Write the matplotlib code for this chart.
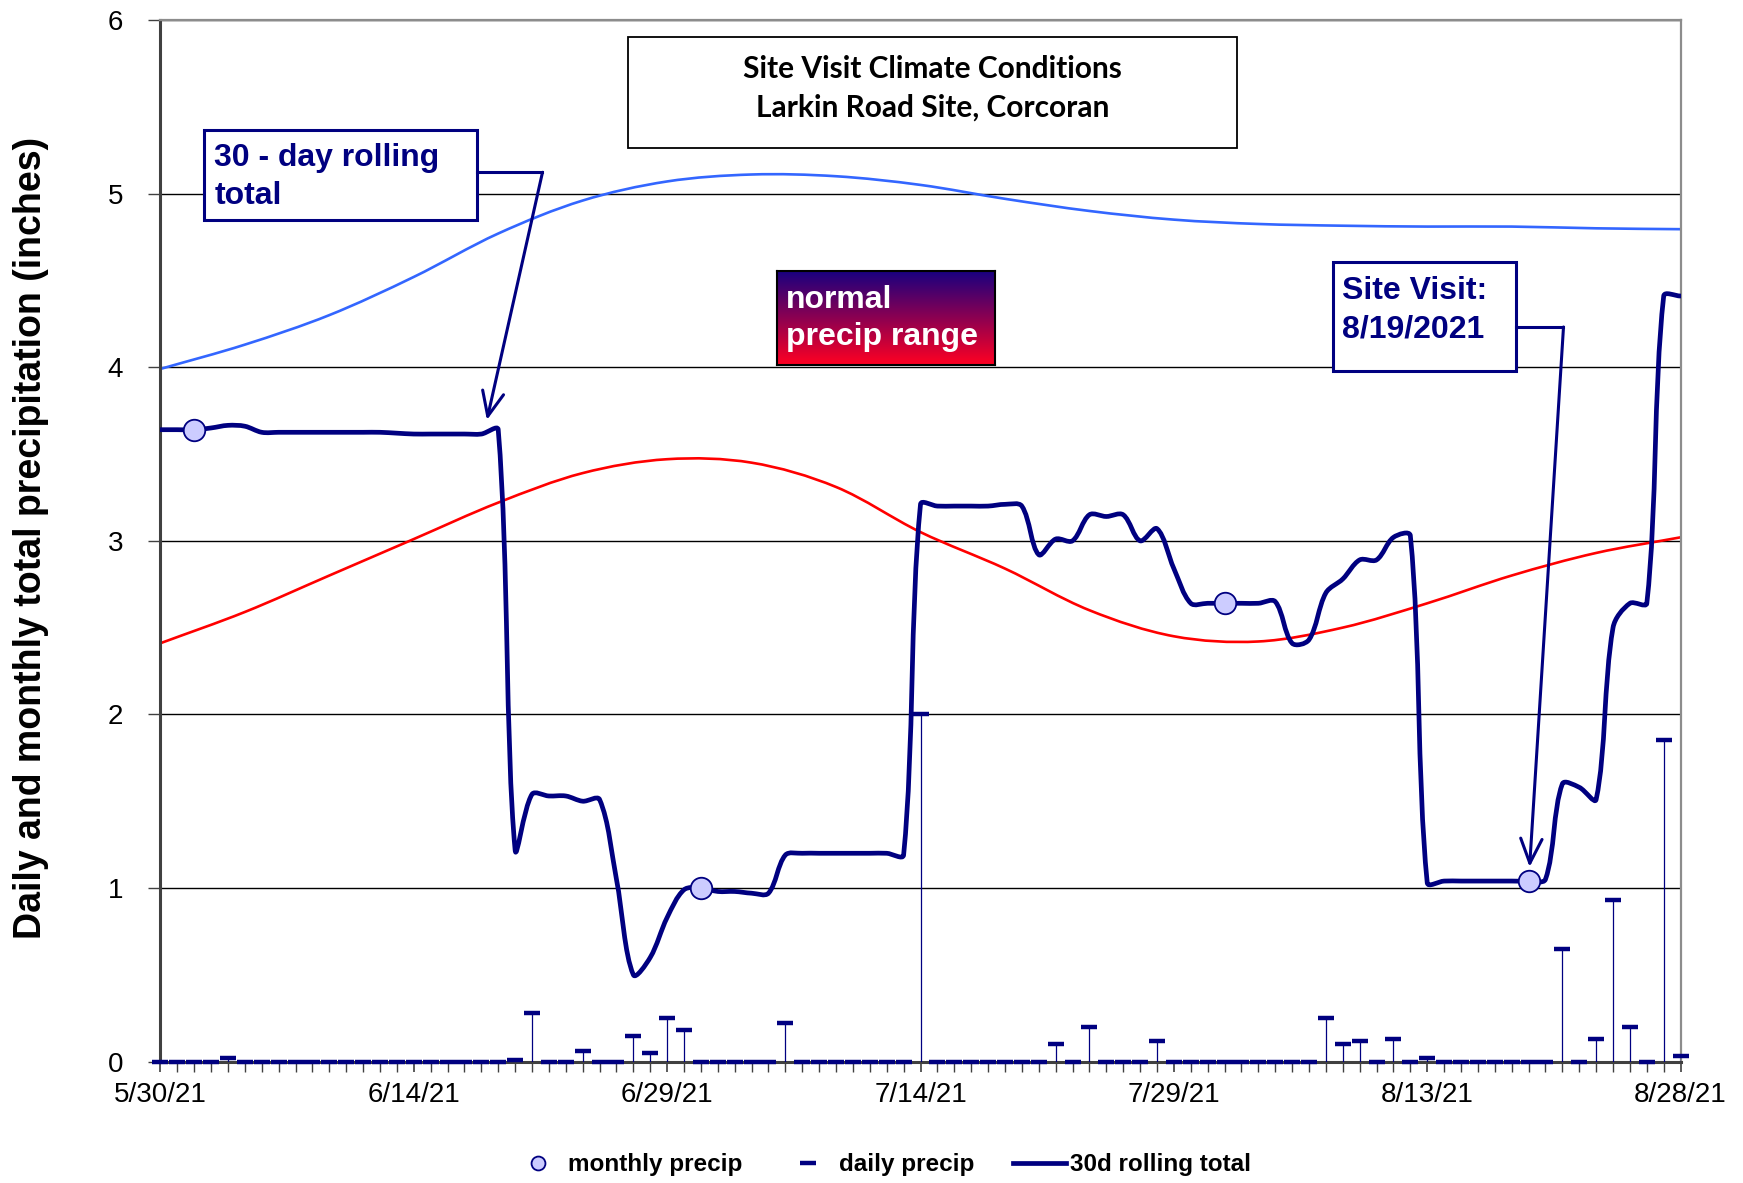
import matplotlib
matplotlib.use("Agg")
import numpy as np
import pandas as pd
import matplotlib.pyplot as plt
import matplotlib.dates as mdates
import matplotlib.transforms as mtransforms
from matplotlib.path import Path
from matplotlib.patches import PathPatch, Rectangle
from matplotlib.lines import Line2D

plt.rcParams['font.family'] = ['Liberation Sans', 'DejaVu Sans']

W, H = 1743, 1183
NAVY = "#000080"

# --- data ---
dates = pd.date_range("2021-05-30", "2021-08-28", freq="D")

daily_precip = [
    0, 0, 0, 0, 0.02, 0, 0, 0, 0, 0,
    0, 0, 0, 0, 0, 0, 0, 0, 0, 0,
    0, 0.01, 0.28, 0, 0, 0.06, 0, 0, 0.15, 0.05,
    0.25, 0.18, 0, 0, 0, 0, 0, 0.22, 0, 0,
    0, 0, 0, 0, 0, 2.00, 0, 0, 0, 0,
    0, 0, 0, 0.10, 0, 0.20, 0, 0, 0, 0.12,
    0, 0, 0, 0, 0, 0, 0, 0, 0, 0.25,
    0.10, 0.12, 0, 0.13, 0, 0.02, 0, 0, 0, 0,
    0, 0, 0, 0.65, 0, 0.13, 0.93, 0.20, 0, 1.85,
    0.03,
]

rolling_30d = [
    3.64, 3.64, 3.64, 3.65, 3.665, 3.66, 3.625, 3.625, 3.625, 3.625,
    3.625, 3.625, 3.625, 3.625, 3.62, 3.615, 3.615, 3.615, 3.615, 3.615,
    3.64, 1.22, 1.54, 1.53, 1.53, 1.50, 1.51, 1.05, 0.50, 0.60,
    0.83, 0.99, 1.00, 0.98, 0.98, 0.97, 0.97, 1.19, 1.20, 1.20,
    1.20, 1.20, 1.20, 1.20, 1.19, 3.21, 3.20, 3.20, 3.20, 3.20,
    3.21, 3.20, 2.92, 3.01, 3.00, 3.15, 3.14, 3.15, 3.00, 3.07,
    2.84, 2.64, 2.64, 2.64, 2.64, 2.64, 2.65, 2.41, 2.43, 2.70,
    2.78, 2.89, 2.89, 3.02, 3.03, 1.03, 1.04, 1.04, 1.04, 1.04,
    1.04, 1.04, 1.05, 1.60, 1.58, 1.51, 2.50, 2.64, 2.64, 4.41,
    4.41,
]

monthly_dates = pd.to_datetime(["2021-06-01", "2021-07-01", "2021-08-01", "2021-08-19"])
monthly_precip = [3.64, 1.00, 2.64, 1.04]

normal_dates = pd.date_range("2021-05-30", "2021-08-28", freq="5D")
normal_high = [3.99, 4.13, 4.30, 4.52, 4.77, 4.96, 5.07, 5.11, 5.10, 5.05,
               4.97, 4.90, 4.85, 4.825, 4.815, 4.81, 4.81, 4.80, 4.795]
normal_low = [2.41, 2.59, 2.80, 3.01, 3.22, 3.39, 3.47, 3.45, 3.31, 3.05,
              2.84, 2.60, 2.45, 2.42, 2.50, 2.64, 2.80, 2.93, 3.02]

tick_dates = pd.date_range("2021-05-30", "2021-08-28", freq="15D")
tick_labels = ["5/30/21", "6/14/21", "6/29/21", "7/14/21", "7/29/21", "8/13/21", "8/28/21"]

# pixels per data unit on the plot (used only to weight the smoothing)
SX = 1520.2 / 90
SY = 1041.6 / 6


def smooth_path(x, y):
    # smoothed line like excel: bezier segments, tangents weighted by segment length
    pts = np.column_stack([x, y]).astype(float)
    n = len(pts)
    scale = np.array([SX, SY])

    def seg_len(a, b):
        return np.hypot(*((b - a) * scale))

    verts = [pts[0]]
    codes = [Path.MOVETO]
    for i in range(n - 1):
        p0 = pts[max(i - 1, 0)]
        p1 = pts[i]
        p2 = pts[i + 1]
        p3 = pts[min(i + 2, n - 1)]
        d0, d1, d2 = seg_len(p0, p1), seg_len(p1, p2), seg_len(p2, p3)
        f1 = d1 / (d0 + d1) if d0 + d1 > 0 else 0
        f2 = d1 / (d1 + d2) if d1 + d2 > 0 else 0
        c1 = p1 + (p2 - p0) * f1 / 3
        c2 = p2 - (p3 - p1) * f2 / 3
        verts += [c1, c2, p2]
        codes += [Path.CURVE4] * 3
    return Path(verts, codes)


fig = plt.figure(figsize=(W / 100, H / 100), dpi=100)
ax = fig.add_axes([160.4 / W, 1 - 1061.6 / H, 1520.2 / W, 1041.6 / H])
px = mtransforms.Affine2D().scale(1 / W, -1 / H).translate(0, 1) + fig.transFigure

x_days = mdates.date2num(dates)

# normal range
ax.add_patch(PathPatch(smooth_path(mdates.date2num(normal_dates), normal_high),
                       fill=False, edgecolor="#3366FF", lw=1.9, zorder=2, capstyle="round"))
ax.add_patch(PathPatch(smooth_path(mdates.date2num(normal_dates), normal_low),
                       fill=False, edgecolor="#FF0000", lw=1.9, zorder=2, capstyle="round"))

# daily precip
ax.vlines(dates, 0, daily_precip, color=NAVY, lw=0.9, zorder=3)
ax.plot(dates, daily_precip, ls="none", marker="_", ms=11, mew=3.2, color=NAVY,
        zorder=4, clip_on=False)

# 30 day rolling total
ax.add_patch(PathPatch(smooth_path(x_days, rolling_30d), fill=False, edgecolor=NAVY,
                       lw=3.4, zorder=5, joinstyle="round", capstyle="round"))

# monthly precip
ax.plot(monthly_dates, monthly_precip, ls="none", marker="o", ms=15.5,
        mfc="#CCCCFF", mec=NAVY, mew=1.3, zorder=6, clip_on=False)

ax.set_xlim(dates[0], dates[-1])
ax.set_ylim(0, 6)
ax.set_yticks(range(7))
ax.set_xticks(tick_dates)
ax.set_xticklabels(tick_labels)
ax.xaxis.set_minor_locator(mdates.DayLocator())
ax.tick_params(axis="both", which="major", labelsize=20, direction="out", color="#404040")
ax.tick_params(axis="x", which="major", length=7, width=1.2, pad=8)
ax.tick_params(axis="x", which="minor", length=7, width=1.0, color="#404040")
ax.tick_params(axis="y", which="major", length=9, width=1.0, pad=18)
ax.grid(axis="y", color="black", lw=1.0, zorder=0)
ax.set_axisbelow(True)

for side in ["left", "bottom"]:
    ax.spines[side].set_color("#404040")
    ax.spines[side].set_linewidth(2.2)
for side in ["top", "right"]:
    ax.spines[side].set_color("#8C8C8C")
    ax.spines[side].set_linewidth(1.6)

ax.set_ylabel("Daily and monthly total precipitation (inches)", fontsize=27, fontweight="bold")
ax.yaxis.set_label_coords(-0.0851, 0.503)
ax.yaxis.label.set_va("center")

# title box
ax.add_patch(Rectangle((628, 37), 609, 111, transform=px, fc="white", ec="black",
                       lw=1.3, zorder=9, clip_on=False))
title_font = ["Lato", "Liberation Sans"]
ax.text(932.6, 69, "Site Visit Climate Conditions", transform=px, ha="center", va="center",
        fontsize=21.5, fontweight="bold", family=title_font, zorder=10)
ax.text(932.6, 108, "Larkin Road Site, Corcoran", transform=px, ha="center", va="center",
        fontsize=21.5, fontweight="bold", family=title_font, zorder=10)

arrow_props = dict(arrowstyle="->,head_length=0.8,head_width=0.35", color=NAVY,
                   lw=2.2, shrinkA=0, shrinkB=0, mutation_scale=22)

# 30-day annotation
ax.add_patch(Rectangle((204.5, 130), 272.5, 90, transform=px, fc="white", ec=NAVY,
                       lw=2.2, zorder=9, clip_on=False))
ax.text(214.5, 158, "30 - day rolling", transform=px, ha="left", va="center",
        fontsize=23, fontweight="bold", color=NAVY, zorder=10)
ax.text(214.5, 196, "total", transform=px, ha="left", va="center",
        fontsize=23, fontweight="bold", color=NAVY, zorder=10)
ax.plot([477, 542.5], [172.3, 172.3], transform=px, color=NAVY, lw=2.2, zorder=9,
        clip_on=False)
ax.annotate("", xy=(486.9, 420), xytext=(542.5, 172.3), xycoords=px, textcoords=px,
            arrowprops=arrow_props, zorder=9)

# site visit annotation
ax.add_patch(Rectangle((1332.8, 262.3), 183.4, 109, transform=px, fc="white", ec=NAVY,
                       lw=2.2, zorder=9, clip_on=False))
ax.text(1341.7, 291, "Site Visit:", transform=px, ha="left", va="center",
        fontsize=23, fontweight="bold", color=NAVY, zorder=10)
ax.text(1341.7, 329, "8/19/2021", transform=px, ha="left", va="center",
        fontsize=23, fontweight="bold", color=NAVY, zorder=10)
ax.plot([1516.2, 1563.5], [327, 327], transform=px, color=NAVY, lw=2.2, zorder=9,
        clip_on=False)
ax.annotate("", xy=(1529.6, 867), xytext=(1563.5, 327), xycoords=px, textcoords=px,
            arrowprops=arrow_props, zorder=9)

# normal precip range box with gradient
gax = fig.add_axes([777 / W, 1 - 364.6 / H, (995 - 777) / W, (364.6 - 271) / H])
top = np.array([0x1A, 0x00, 0x80]) / 255
bot = np.array([0xFF, 0x00, 0x22]) / 255
t = np.linspace(0, 1, 100)[:, None]
grad = (top * (1 - t) + bot * t)[:, None, :]
gax.imshow(grad, aspect="auto", extent=[0, 1, 0, 1], origin="upper")
gax.set_xticks([])
gax.set_yticks([])
for s in gax.spines.values():
    s.set_color("black")
    s.set_linewidth(1.5)
fig.text(786 / W, 1 - 300 / H, "normal", ha="left", va="center", fontsize=23,
         fontweight="bold", color="white")
fig.text(786 / W, 1 - 337 / H, "precip range", ha="left", va="center", fontsize=23,
         fontweight="bold", color="white")

# legend
handles = [
    Line2D([], [], ls="none", marker="o", ms=10, mfc="#CCCCFF", mec=NAVY, mew=1.3),
    Line2D([], [], ls="none", marker="_", ms=11, mew=3.2, color=NAVY),
    Line2D([], [], color=NAVY, lw=3.4),
]
fig.legend(handles, ["monthly precip", "daily precip", "30d rolling total"],
           loc="center", bbox_to_anchor=(881 / W, 1 - 1165 / H), ncol=3, frameon=False,
           prop=dict(size=17.5, weight="bold"), handlelength=2.2, handletextpad=0.15,
           columnspacing=1.6)

fig.savefig("out.png", dpi=100)
